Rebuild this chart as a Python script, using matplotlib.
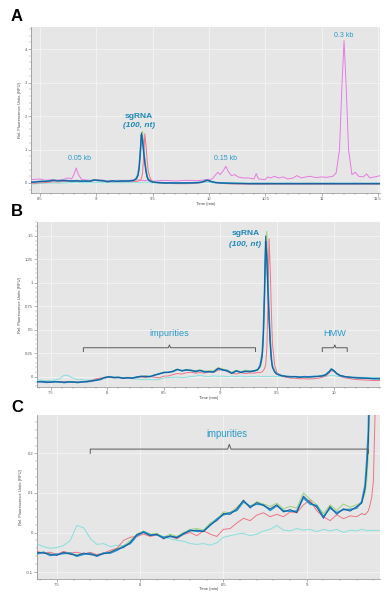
import matplotlib
matplotlib.use("Agg")
import matplotlib.pyplot as plt
from matplotlib.ticker import MultipleLocator, FuncFormatter

plt.rcParams['font.family'] = ['Liberation Sans', 'DejaVu Sans']

# ---------------- data ----------------
# ladder (panel A)
ladder_t = [8.42, 8.50, 8.55, 8.60, 8.65, 8.70, 8.75, 8.78, 8.80, 8.82, 8.84, 8.87, 8.95, 9.00,
            9.10, 9.20, 9.30, 9.35, 9.38, 9.45, 9.50, 9.60, 9.70, 9.80, 9.90, 9.98, 10.03, 10.06,
            10.08, 10.10, 10.13, 10.15, 10.17, 10.20, 10.23, 10.26, 10.30, 10.35, 10.40, 10.42,
            10.44, 10.50, 10.52, 10.55, 10.58, 10.62, 10.66, 10.70, 10.75, 10.78, 10.82, 10.86,
            10.90, 10.95, 11.00, 11.05, 11.10, 11.13, 11.16, 11.18, 11.20, 11.22, 11.24, 11.27,
            11.30, 11.33, 11.37, 11.40, 11.43, 11.47, 11.52]
ladder_y = [0.10, 0.12, 0.08, 0.10, 0.08, 0.10, 0.15, 0.12, 0.25, 0.45, 0.25, 0.10, 0.08, 0.10,
            0.07, 0.08, 0.08, 0.10, 0.08, 0.07, 0.05, 0.08, 0.06, 0.08, 0.07, 0.10, 0.12, 0.25,
            0.32, 0.25, 0.38, 0.50, 0.35, 0.22, 0.25, 0.18, 0.15, 0.15, 0.12, 0.28,
            0.12, 0.10, 0.18, 0.15, 0.20, 0.15, 0.18, 0.12, 0.15, 0.22, 0.15, 0.18,
            0.20, 0.16, 0.18, 0.17, 0.20, 0.30, 1.00, 2.80, 4.25, 2.80, 1.00, 0.25,
            0.32, 0.20, 0.18, 0.27, 0.15, 0.18, 0.22]

# samples (shared by panels A, B, C)
t_s = [7.38, 7.42, 7.46, 7.50, 7.54, 7.58, 7.62, 7.66, 7.70, 7.74, 7.78, 7.82, 7.86, 7.90,
       7.94, 7.98, 8.02, 8.06, 8.10, 8.14, 8.18, 8.22, 8.26, 8.30, 8.34, 8.38, 8.42, 8.46,
       8.50, 8.54, 8.58, 8.62, 8.66, 8.70, 8.74, 8.78, 8.82, 8.86, 8.90, 8.94, 8.98, 9.02,
       9.06, 9.10, 9.14, 9.18, 9.22, 9.26, 9.30, 9.33, 9.35, 9.36, 9.37, 9.38, 9.39, 9.40,
       9.41, 9.42, 9.43, 9.44, 9.45, 9.46, 9.48, 9.50, 9.54, 9.58, 9.62, 9.66, 9.70, 9.74,
       9.78, 9.82, 9.86, 9.90, 9.93, 9.96, 9.98, 10.00, 10.03, 10.06, 10.10, 10.15, 10.20,
       10.25, 10.30, 10.35, 10.41, 10.50, 10.60, 10.70, 10.80, 10.90, 11.00, 11.10, 11.20,
       11.30, 11.40, 11.52]

blue_y = [-0.050, -0.052, -0.055, -0.058, -0.050, -0.055, -0.058, -0.052, -0.056, -0.058, -0.054, -0.050, -0.042, -0.038,
          -0.025, -0.005, 0.000, -0.008, -0.004, -0.016, -0.008, -0.014, -0.002, 0.004, 0.006, 0.002, 0.020, 0.030,
          0.048, 0.046, 0.060, 0.082, 0.062, 0.076, 0.068, 0.060, 0.070, 0.052, 0.058, 0.050, 0.092, 0.076,
          0.064, 0.036, 0.066, 0.046, 0.060, 0.054, 0.066, 0.074, 0.110, 0.160, 0.230, 0.450, 0.950, 1.500,
          1.250, 0.900, 0.600, 0.350, 0.180, 0.100, 0.050, 0.028, 0.012, 0.005, 0.000, 0.004, -0.004, 0.000,
          -0.002, 0.002, 0.004, 0.010, 0.020, 0.050, 0.080, 0.070, 0.035, 0.015, 0.004, -0.004, -0.010,
          -0.012, -0.016, -0.018, -0.020, -0.020, -0.018, -0.020, -0.019, -0.020, -0.018, -0.020, -0.019,
          -0.020, -0.018, -0.020]

teal_y = [-0.054, -0.050, -0.058, -0.055, -0.053, -0.052, -0.060, -0.055, -0.053, -0.060, -0.052, -0.052, -0.045, -0.035,
          -0.028, -0.008, 0.002, -0.006, -0.006, -0.012, -0.010, -0.012, -0.004, 0.006, 0.003, 0.004, 0.018, 0.034,
          0.045, 0.050, 0.056, 0.078, 0.066, 0.072, 0.070, 0.056, 0.068, 0.055, 0.054, 0.054, 0.088, 0.072,
          0.068, 0.040, 0.062, 0.050, 0.058, 0.058, 0.062, 0.078, 0.120, 0.180, 0.260, 0.500, 0.900, 1.440,
          1.300, 0.950, 0.650, 0.380, 0.200, 0.110, 0.055, 0.030, 0.014, 0.006, 0.002, 0.002, -0.002, 0.002,
          0.000, 0.004, 0.006, 0.012, 0.024, 0.056, 0.085, 0.066, 0.032, 0.012, 0.002, -0.006, -0.008,
          -0.014, -0.014, -0.020, -0.018, -0.018, -0.020, -0.018, -0.020, -0.018, -0.020, -0.018, -0.020,
          -0.018, -0.020, -0.018]

green_y = [-0.052, -0.050, -0.054, -0.056, -0.052, -0.054, -0.056, -0.054, -0.054, -0.056, -0.052, -0.048, -0.040, -0.034,
           -0.022, -0.004, 0.004, -0.004, -0.002, -0.012, -0.004, -0.010, 0.000, 0.008, 0.010, 0.006, 0.024, 0.034,
           0.052, 0.050, 0.064, 0.080, 0.066, 0.078, 0.072, 0.066, 0.074, 0.060, 0.066, 0.062, 0.100, 0.084,
           0.070, 0.048, 0.070, 0.056, 0.072, 0.064, 0.070, 0.076, 0.100, 0.130, 0.200, 0.380, 0.850, 1.400,
           1.550, 1.000, 0.650, 0.400, 0.200, 0.110, 0.055, 0.030, 0.014, 0.006, 0.002, 0.004, -0.002, 0.002,
           0.000, 0.004, 0.006, 0.012, 0.022, 0.052, 0.082, 0.072, 0.036, 0.016, 0.004, -0.004, -0.010,
           -0.012, -0.016, -0.018, -0.020, -0.020, -0.018, -0.020, -0.019, -0.020, -0.018, -0.020, -0.019,
           -0.020, -0.018, -0.020]

red_y = [-0.048, -0.052, -0.050, -0.055, -0.048, -0.052, -0.050, -0.054, -0.050, -0.056, -0.052, -0.045, -0.040, -0.020,
         -0.012, -0.010, -0.004, -0.010, -0.006, -0.014, -0.010, -0.016, -0.005, 0.000, -0.008, 0.004, -0.004, -0.010,
         0.008, 0.010, 0.024, 0.036, 0.030, 0.044, 0.050, 0.040, 0.046, 0.040, 0.052, 0.050, 0.070, 0.082,
         0.055, 0.040, 0.030, 0.045, 0.035, 0.042, 0.040, 0.048, 0.045, 0.050, 0.055, 0.070, 0.090, 0.130,
         0.300, 0.800, 1.470, 1.150, 0.700, 0.350, 0.120, 0.045, 0.010, -0.005, -0.012, -0.015, -0.020, -0.020,
         -0.022, -0.020, -0.015, -0.005, 0.010, 0.040, 0.065, 0.060, 0.030, 0.005, -0.010, -0.020, -0.028,
         -0.032, -0.035, -0.038, -0.040, -0.040, -0.038, -0.040, -0.039, -0.040, -0.038, -0.040, -0.039,
         -0.040, -0.038, -0.040]

cyan_y = [-0.029, -0.036, -0.040, -0.038, -0.033, -0.020, 0.018, 0.012, -0.015, -0.030, -0.028, -0.036, -0.032, -0.034,
          -0.020, -0.005, 0.002, -0.006, -0.004, -0.012, -0.016, -0.020, -0.022, -0.028, -0.030, -0.028, -0.032, -0.026,
          -0.012, -0.008, -0.004, -0.002, -0.008, -0.004, 0.004, 0.008, 0.018, 0.006, 0.004, 0.010, 0.006, 0.008,
          0.002, 0.008, 0.004, 0.008, 0.000, 0.006, 0.004, 0.008, 0.006, 0.004, 0.006, 0.004, 0.006, 0.005,
          0.006, 0.004, 0.006, 0.005, 0.004, 0.006, 0.004, 0.003, 0.002, 0.000, 0.002, 0.000, -0.002, 0.000,
          -0.002, 0.000, 0.002, 0.004, 0.006, 0.012, 0.018, 0.014, 0.006, 0.002, 0.000, -0.002, -0.004,
          -0.004, -0.006, -0.006, -0.008, -0.008, -0.008, -0.008, -0.008, -0.008, -0.008, -0.008, -0.008,
          -0.008, -0.008, -0.008]

# ---------------- style ----------------
C_BLUE = '#1d5c97'
C_TEAL = '#2193cf'
C_GREEN = '#9ad27a'
C_RED = '#ee7585'
C_CYAN = '#86e0dc'
C_LADDER = '#e67ae0'
C_TXT = '#2a9ac8'
C_TXT2 = '#1f88b8'
BG = '#e6e6e6'

fig = plt.figure(figsize=(3.89, 5.93), dpi=100)

def fmt(v, pos):
    s = ('%.2f' % v).rstrip('0').rstrip('.')
    if s == '-0':
        s = '0'
    return s

def style(ax, xlim, ylim, xmaj, xmin, ymaj, ymin):
    ax.set_facecolor(BG)
    ax.set_xlim(*xlim)
    ax.set_ylim(*ylim)
    ax.xaxis.set_major_locator(MultipleLocator(xmaj))
    ax.xaxis.set_minor_locator(MultipleLocator(xmin))
    ax.yaxis.set_major_locator(MultipleLocator(ymaj))
    ax.yaxis.set_minor_locator(MultipleLocator(ymin))
    ax.xaxis.set_major_formatter(FuncFormatter(fmt))
    ax.yaxis.set_major_formatter(FuncFormatter(fmt))
    ax.grid(True, which='major', color='#f4f4f4', lw=0.6)
    ax.set_axisbelow(True)
    for s in ['top', 'right']:
        ax.spines[s].set_visible(False)
    for s in ['left', 'bottom']:
        ax.spines[s].set_color('#8a8a8a')
        ax.spines[s].set_linewidth(0.5)
    ax.tick_params(which='major', length=2, width=0.4, color='#777777', labelsize=3, labelcolor='#555555', pad=0.8)
    ax.tick_params(which='minor', length=1.2, width=0.3, color='#888888')
    ax.set_xlabel('Time (min)', fontsize=3, color='#444444', labelpad=0.5)
    ax.set_ylabel('Rel. Fluorescence Units (RFU)', fontsize=3, color='#444444', labelpad=2)

def samples(ax):
    ax.plot(t_s, cyan_y, color=C_CYAN, lw=0.7, zorder=3)
    ax.plot(t_s, green_y, color=C_GREEN, lw=0.7, zorder=3)
    ax.plot(t_s, red_y, color=C_RED, lw=0.7, zorder=4)
    ax.plot(t_s, teal_y, color=C_TEAL, lw=1.2, zorder=5)
    ax.plot(t_s, blue_y, color=C_BLUE, lw=0.7, zorder=6)

def bracket(ax, x0, x1, y, drop, rise):
    xm = (x0 + x1) / 2
    ax.plot([x0, x0, xm - 0.01, xm, xm + 0.01, x1, x1],
            [y - drop, y, y, y + rise, y, y, y - drop],
            color='#5a5a5a', lw=0.7, zorder=7)

# ---------------- panel A ----------------
axA = fig.add_axes([0.080, 0.6745, 0.897, 0.280])
style(axA, (8.42, 11.52), (-0.3, 4.66), 0.5, 0.1, 1, 0.2)
axA.plot(ladder_t, ladder_y, color=C_LADDER, lw=0.7, zorder=3)
samples(axA)
axA.text(9.38, 2.0, 'sgRNA', color=C_TXT2, fontsize=6, fontweight='bold', ha='center', va='center')
axA.text(9.38, 1.72, '(100, nt)', color=C_TXT2, fontsize=6, fontweight='bold', style='italic', ha='center', va='center')
axA.text(8.85, 0.72, '0.05 kb', color=C_TXT, fontsize=5, ha='center', va='center')
axA.text(10.15, 0.72, '0.15 kb', color=C_TXT, fontsize=5, ha='center', va='center')
axA.text(11.2, 4.42, '0.3 kb', color=C_TXT, fontsize=5, ha='center', va='center')

# ---------------- panel B ----------------
axB = fig.add_axes([0.095, 0.347, 0.882, 0.279])
style(axB, (7.38, 10.41), (-0.11, 1.65), 0.5, 0.1, 0.25, 0.05)
samples(axB)
axB.text(9.22, 1.53, 'sgRNA', color=C_TXT2, fontsize=6, fontweight='bold', ha='center', va='center')
axB.text(9.22, 1.41, '(100, nt)', color=C_TXT2, fontsize=6, fontweight='bold', style='italic', ha='center', va='center')
bracket(axB, 7.79, 9.31, 0.31, 0.04, 0.03)
axB.text(8.55, 0.46, 'impurities', color=C_TXT, fontsize=6.6, ha='center', va='center')
bracket(axB, 9.90, 10.12, 0.31, 0.04, 0.03)
axB.text(10.01, 0.46, 'HMW', color=C_TXT, fontsize=6.6, ha='center', va='center')

# ---------------- panel C ----------------
axC = fig.add_axes([0.095, 0.024, 0.882, 0.276])
style(axC, (7.38, 9.44), (-0.117, 0.297), 0.5, 0.1, 0.1, 0.02)
samples(axC)
bracket(axC, 7.70, 9.37, 0.211, 0.011, 0.012)
axC.text(8.52, 0.249, 'impurities', color=C_TXT, fontsize=6.9, ha='center', va='center')

# panel letters
for lab, y in [('A', 0.972), ('B', 0.643), ('C', 0.313)]:
    fig.text(0.028, y, lab, fontsize=12, fontweight='bold', ha='left', va='center')

fig.savefig('out.png', dpi=100, facecolor='white')
